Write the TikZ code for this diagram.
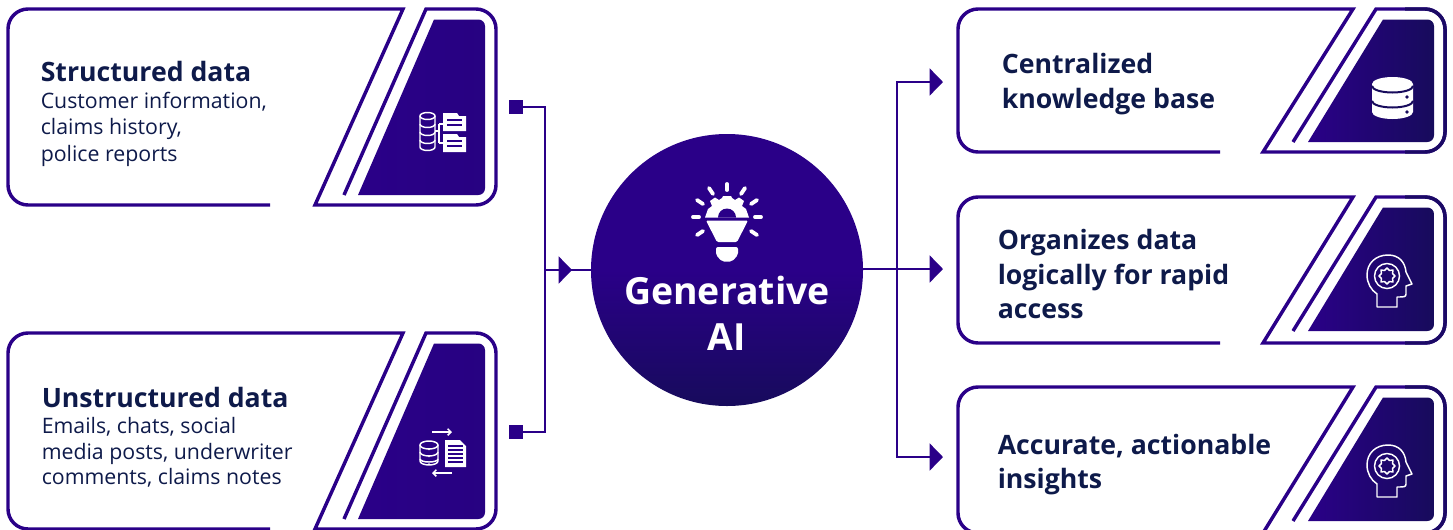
\documentclass[tikz,border=0pt]{standalone}
\usepackage{fontspec}
\setmainfont{Open Sans}
\usetikzlibrary{arrows.meta}
\definecolor{genpurple}{HTML}{2A0088}
\definecolor{gendark}{HTML}{170B5C}
\definecolor{gentext}{HTML}{0E1A4A}
\tikzset{
	cardline/.style={draw=genpurple,line width=2.6pt,line join=miter},
	conn/.style={draw=genpurple,line width=2.2pt},
	tip/.style={-{Triangle[length=10pt,width=20pt]}},
	headtext/.style={text=gentext,font=\fontsize{20}{26}\bfseries\selectfont,inner sep=0pt,anchor=base west,align=left},
	bodytext/.style={text=gentext,font=\fontsize{15.98}{19.9}\selectfont,inner sep=0pt,anchor=base west},
	iconline/.style={draw=white,line width=1.1pt},
	ray/.style={draw=white,line width=2.9pt,line cap=round},
	stub/.style={fill=genpurple,minimum size=10.5pt,inner sep=0pt},
}
\begin{document}
\begin{tikzpicture}[x=0.75pt,y=-0.75pt]
	\useasboundingbox (0,0) rectangle (1453,529);
	\clip (0,0) rectangle (1453,529);
	% left cards
	\foreach \oy in {0,324} {
		\begin{scope}[yshift=-\oy*0.75pt]
			\draw[cardline] (270,205) [rounded corners=15pt] -- (8,205) -- (8,9) [sharp corners] -- (403,9) -- (315,205) [rounded corners=15pt] -- (496,205) -- (496,9) [sharp corners] -- (426,9) -- (344,195);
			\path[left color=genpurple,right color=genpurple!85!gendark] (434,19.5) [rounded corners=5pt] -- (485,19.5) -- (485,195) [sharp corners] -- (358,195) -- cycle;
		\end{scope}
	}
	% right cards
	\foreach \oy/\hh/\bb in {0/143/142,188/146/143,378/146/143} {
		\begin{scope}[yshift=-\oy*0.75pt]
			\draw[cardline] (1220,9+\hh) [rounded corners=15pt] -- (958,9+\hh) -- (958,9) [sharp corners] -- (1353,9) -- (1263,9+\hh) [rounded corners=15pt] -- (1445,9+\hh) -- (1445,9) [sharp corners] -- (1376,9) -- (1293,\bb);
			\draw[cardline,draw=gendark!80!genpurple] (1405,9+\hh) [rounded corners=15pt] -- (1445,9+\hh) -- (1445,9) [sharp corners] -- (1405,9);
			\path[left color=genpurple,right color=gendark] (1383,19.5) [rounded corners=5pt] -- (1434,19.5) -- (1434,\bb) [sharp corners] -- (1308,\bb) -- cycle;
		\end{scope}
	}
	% centre
	\node[circle,minimum size=204pt,inner sep=0pt,top color=genpurple,bottom color=gendark,middle color=genpurple] (genai) at (727,270) {};
	\node[text=white,font=\fontsize{28.05}{34.5}\bfseries\selectfont,inner sep=0pt,anchor=base] (genlabel) at (727,304) {Generative};
	\node[text=white,font=\fontsize{28.05}{34.5}\bfseries\selectfont,inner sep=0pt,anchor=base] (genlabelb) at (727,350) {AI};
	% bulb
	\foreach \ax/\ay/\bx/\by in {727/184/727/190,709/188/713/194,745/188/741/194,697/200/703/204,757/200/751/204,693/217/699/217,755/217/761/217,697/235/703/231,757/235/751/231}
		\draw[ray] (\ax,\ay) -- (\bx,\by);
	\fill[white] (749,217.5) -- (746,209) -- (742,206) -- (744,201) -- (739,197.5) -- (735,200) -- (732,198) -- (731,196) -- (723,196) -- (722,198) -- (719,200) -- (715,197.5) -- (710,201) -- (712,206) -- (708,209) -- (705,217.5) -- cycle;
	\fill[genpurple] (718,217.5) arc[start angle=180,end angle=360,radius=9] -- cycle;
	\fill[white,rounded corners=1pt] (706,220.5) -- (748,220.5) -- (737,242) -- (717,242) -- cycle;
	\fill[white,rounded corners=1.5pt] (716,247) -- (738,247) -- (738,255) -- (732,261.5) -- (722,261.5) -- (716,255) -- cycle;
	% database and folders
	\draw[iconline] (420,116) -- (420,147) arc[x radius=7.5,y radius=3.5,start angle=180,end angle=0] -- (435,116);
	\draw[iconline] (427.5,116) ellipse[x radius=7.5,y radius=3.5];
	\foreach \yy in {124,132,140}
		\draw[iconline] (420,\yy) arc[x radius=7.5,y radius=3.5,start angle=180,end angle=0];
	\draw[iconline] (435,131) -- (439,131) (439,124) -- (439,143) (439,124) -- (443,124) (439,143) -- (443,143);
	\foreach \yy in {112,133} {
		\fill[white] (443,\yy+1) -- (457,\yy+1) -- (459,\yy+4) -- (466,\yy+4) -- (466,\yy+19) -- (443,\yy+19) -- cycle;
		\draw[genpurple,line width=0.9pt] (447,\yy+8) -- (462,\yy+8) (447,\yy+13) -- (462,\yy+13);
	}
	% database and document
	\draw[iconline] (420,445) -- (420,461) arc[x radius=9,y radius=4,start angle=180,end angle=0] -- (438,445);
	\draw[iconline] (429,445) ellipse[x radius=9,y radius=4];
	\draw[iconline] (420,452) arc[x radius=9,y radius=4,start angle=180,end angle=0] (420,459) arc[x radius=9,y radius=3,start angle=180,end angle=0];
	\fill[white] (429,449.5) circle[radius=0.8] (429,456.5) circle[radius=0.8] (429,464) circle[radius=0.8];
	\fill[white] (445,440) -- (460,440) -- (466,446) -- (466,467) -- (445,467) -- cycle;
	\foreach \yy in {446,450,454,458,462}
		\draw[genpurple,line width=0.8pt] (448,\yy) -- (463,\yy);
	\draw[iconline,-{Straight Barb[length=2.5pt,width=5pt]}] (432,432) -- (452,432);
	\draw[iconline,-{Straight Barb[length=2.5pt,width=5pt]}] (452,473) -- (432,473);
	% stack
	\fill[white] (1372,84) arc[x radius=20.5,y radius=7,start angle=180,end angle=360] -- (1413,112) arc[x radius=20.5,y radius=7,start angle=0,end angle=180] -- cycle;
	\draw[gendark,line width=1.5pt] (1372,86) arc[x radius=20.5,y radius=6.5,start angle=180,end angle=0] (1372,101) arc[x radius=20.5,y radius=6.5,start angle=180,end angle=0];
	\fill[gendark] (1407,97) circle[radius=1.8] (1407,112) circle[radius=1.8];
	% heads
	\foreach \oy in {0,190} {
		\begin{scope}[yshift=-\oy*0.75pt]
			\draw[iconline,line join=round] (1377,307) -- (1377,294) .. controls (1371,290) and (1367,283) .. (1367,275) .. controls (1367,263) and (1376,255) .. (1388,255) .. controls (1399,255) and (1405,262) .. (1406,272) -- (1412,284) -- (1406,286) -- (1406,294) .. controls (1406,297) and (1404,297) .. (1397,297) -- (1397,307) -- cycle;
			\draw[iconline] (1387,276) circle[radius=12.5];
			\draw[iconline,line join=round] (1387,268) -- (1389.5,270.5) -- (1393,270) -- (1392.5,273.5) -- (1395,276) -- (1392.5,278.5) -- (1393,282) -- (1389.5,281.5) -- (1387,284) -- (1384.5,281.5) -- (1381,282) -- (1381.5,278.5) -- (1379,276) -- (1381.5,273.5) -- (1381,270) -- (1384.5,270.5) -- cycle;
		\end{scope}
	}
	% texts
	\node[headtext] (structhead) at (40.5,81) {Structured data};
	\node[bodytext] (structa) at (40.5,108) {Customer information,};
	\node[bodytext] (structb) at (40.5,134) {claims history,};
	\node[bodytext] (structc) at (40.5,161) {police reports};
	\node[headtext] (unstructhead) at (41.5,407) {Unstructured data};
	\node[bodytext] (unstructa) at (41.5,433) {Emails, chats, social};
	\node[bodytext] (unstructb) at (41.5,459) {media posts, underwriter};
	\node[bodytext] (unstructc) at (41.5,484) {comments, claims notes};
	\node[headtext] (kba) at (1001.5,73) {Centralized};
	\node[headtext] (kbb) at (1001.5,108) {knowledge base};
	\node[headtext] (orga) at (997.5,249) {Organizes data};
	\node[headtext] (orgb) at (997.5,284) {logically for rapid};
	\node[headtext] (orgc) at (997.5,318) {access};
	\node[headtext] (insa) at (997.5,454) {Accurate, actionable};
	\node[headtext] (insb) at (997.5,488) {insights};
	% connectors
	\node[stub] (stuba) at (516,107) {};
	\node[stub] (stubb) at (516,432) {};
	\coordinate (join) at (545,270);
	\coordinate (jointip) at (572,270);
	\coordinate (hub) at (897,269);
	\coordinate (outa) at (943,82);
	\coordinate (outb) at (943,269);
	\coordinate (outc) at (943,457);
	\draw[conn] (stuba.east) -| (join);
	\draw[conn] (stubb.east) -| (join);
	\draw[conn] (join) -- (genai.west);
	\draw[conn,tip] (join) -- (jointip);
	\draw[conn,tip] (genai.east |- outb) -- (outb);
	\draw[conn,tip] (hub) |- (outa);
	\draw[conn,tip] (hub) |- (outc);
\end{tikzpicture}
\end{document}
